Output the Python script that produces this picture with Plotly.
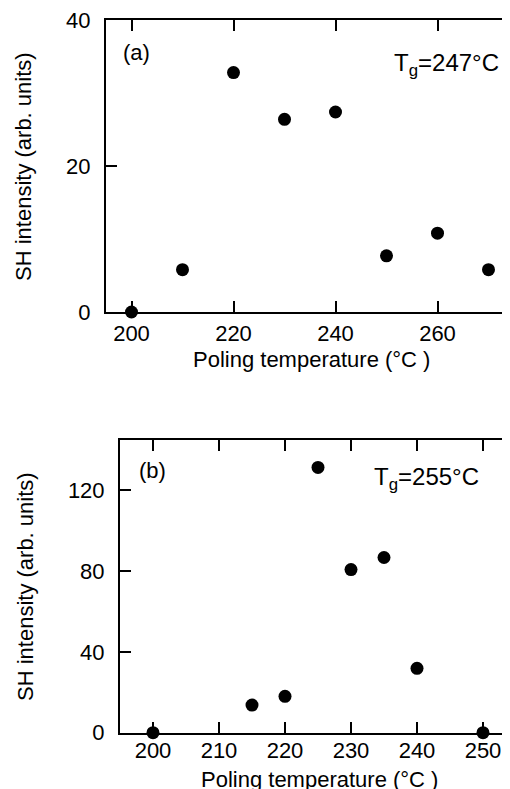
import plotly.graph_objects as go

# Panel (a)
temp_a = [200, 210, 220, 230, 240, 250, 260, 270]
sh_a = [0, 5.8, 32.8, 26.4, 27.4, 7.7, 10.8, 5.8]
xticks_a = [200, 220, 240, 260]
yticks_a = [0, 20, 40]

# Panel (b)
temp_b = [200, 215, 220, 225, 230, 235, 240, 250]
sh_b = [0, 13.7, 18.0, 131.4, 80.8, 86.8, 31.9, 0]
xticks_b = [200, 210, 220, 230, 240, 250]
yticks_b = [0, 40, 80, 120]

xlabel = "Poling temperature (°C )"
ylabel = "SH intensity (arb. units)"

FONT = "Liberation Sans, Arial, Helvetica, sans-serif"
FS = 22
W, H = 510, 789
OFF = 8  # page body margin offset


def px(x):
    return (x - OFF) / W


def py(y):
    return (H - (y - OFF)) / H


fig = go.Figure()
marker = dict(color="black", size=13, line=dict(width=0))
fig.add_trace(go.Scatter(x=temp_a, y=sh_a, mode="markers", marker=marker,
                         xaxis="x", yaxis="y", cliponaxis=False, showlegend=False))
fig.add_trace(go.Scatter(x=temp_b, y=sh_b, mode="markers", marker=marker,
                         xaxis="x2", yaxis="y2", cliponaxis=False, showlegend=False))

axis_common = dict(showline=True, linecolor="black", linewidth=2, mirror="ticks",
                   ticks="inside", ticklen=11, tickwidth=2, tickcolor="black",
                   showgrid=False, zeroline=False, automargin=False,
                   ticklabeloverflow="allow",
                   tickfont=dict(family=FONT, size=FS, color="black"))

fig.update_layout(
    width=W, height=H,
    margin=dict(l=0, r=0, t=0, b=0),
    paper_bgcolor="white", plot_bgcolor="white",
    font=dict(family=FONT, size=FS, color="black"),
    xaxis=dict(domain=[px(106), px(514)], range=[195, 275], tickvals=xticks_a,
               anchor="y", ticklabelstandoff=1, **axis_common),
    yaxis=dict(domain=[py(312), py(20)], range=[0, 40], tickvals=yticks_a,
               anchor="x", ticklabelstandoff=9, **axis_common),
    xaxis2=dict(domain=[px(120), px(516)], range=[195, 255], tickvals=xticks_b,
                anchor="y2", ticklabelstandoff=-3, **axis_common),
    yaxis2=dict(domain=[py(732.7), py(440)], range=[0, 145], tickvals=yticks_b,
                anchor="x2", ticklabelstandoff=9, **axis_common),
)

ann_font = dict(family=FONT, size=FS, color="black")
tg_font = dict(family=FONT, size=24, color="black")


def note(x, y, text, xa="center", font=ann_font, angle=0):
    fig.add_annotation(x=px(x), y=py(y), xref="paper", yref="paper", text=text,
                       showarrow=False, xanchor=xa, yanchor="middle",
                       textangle=angle, font=font, borderpad=0)


# axis titles
note(311, 359, xlabel)
note(24, 167, ylabel, angle=-90)
note(319, 779, xlabel)
note(25, 587, ylabel, angle=-90)

# panel labels
note(121.7, 52, "(a)", xa="left")
note(500, 64, "T<sub>g</sub>=247°C", xa="right", font=tg_font)
note(138, 471, "(b)", xa="left")
note(479.5, 478, "T<sub>g</sub>=255°C", xa="right", font=tg_font)

fig.write_html("out.html")
